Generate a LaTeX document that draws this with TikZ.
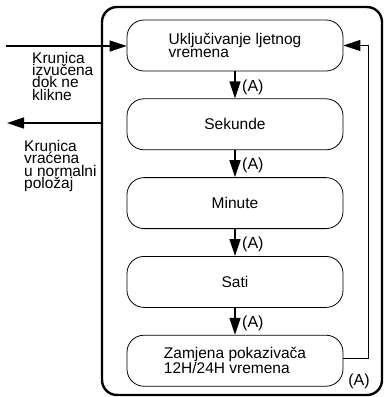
\documentclass[tikz,border=0pt]{standalone}
\usepackage{fontspec}
\setmainfont{Liberation Sans}
\usetikzlibrary{positioning,arrows.meta}
\tikzstyle{state}=[rectangle, draw=black, rounded corners=17pt, line width=0.8pt,
        minimum width=216pt, minimum height=51pt, align=left, font=\fontsize{15.5}{11}\selectfont]
\tikzstyle{frame}=[rectangle, draw=black, rounded corners=15pt, line width=2.4pt,
        minimum width=280pt, minimum height=388pt]
\tikzstyle{myarrow}=[-{Triangle[length=17pt,width=11pt]}, line width=1.4pt]
\tikzstyle{tag}=[right, inner sep=1.5pt, xshift=5pt, yshift=-2pt, font=\fontsize{16}{16}\selectfont]
\tikzstyle{note}=[anchor=north west, inner sep=0pt, align=left, font=\fontsize{15.5}{12.4}\selectfont]

\begin{document}
\begin{tikzpicture}[x=1pt, y=1pt, node distance=27pt]
    \useasboundingbox (0,0) rectangle (384,-397);

    \node (Frame) [frame] at (242,-201) {};

    \node (Ljetno) [state] at (235,-45.5) {Uključivanje ljetnog\\vremena};
    \node (Sekunde) [state, below=of Ljetno] {Sekunde};
    \node (Minute) [state, below=of Sekunde] {Minute};
    \node (Sati) [state, below=of Minute] {Sati};
    \node (Zamjena) [state, below=of Sati] {Zamjena pokazivača\\12H/24H vremena};

    \draw[myarrow] (Ljetno) -- node[tag] {(A)} (Sekunde);
    \draw[myarrow] (Sekunde) -- node[tag] {(A)} (Minute);
    \draw[myarrow] (Minute) -- node[tag] {(A)} (Sati);
    \draw[myarrow] (Sati) -- node[tag] {(A)} (Zamjena);

    % back to the first step
    \draw[myarrow] ([yshift=2pt]Zamjena.east) -- ++(25,0) |- (Ljetno.east);
    \node (OznakaA) [font=\fontsize{16}{16}\selectfont] at (359,-381) {(A)};

    % crown pulled out / pushed back
    \coordinate (Ulaz) at (6,-46);
    \coordinate (Izlaz) at (7,-123);
    \draw[myarrow] (Ulaz) -- (Ulaz -| Ljetno.west);
    \draw[myarrow] (Izlaz -| Frame.west) -- (Izlaz);

    \node (Izvucena) [note] at (32,-51.7) {Krunica\\izvučena\\dok ne\\klikne};
    \node (Vracena) [note] at (24,-140) {Krunica\\vraćena\\u normalni\\položaj};
\end{tikzpicture}
\end{document}
